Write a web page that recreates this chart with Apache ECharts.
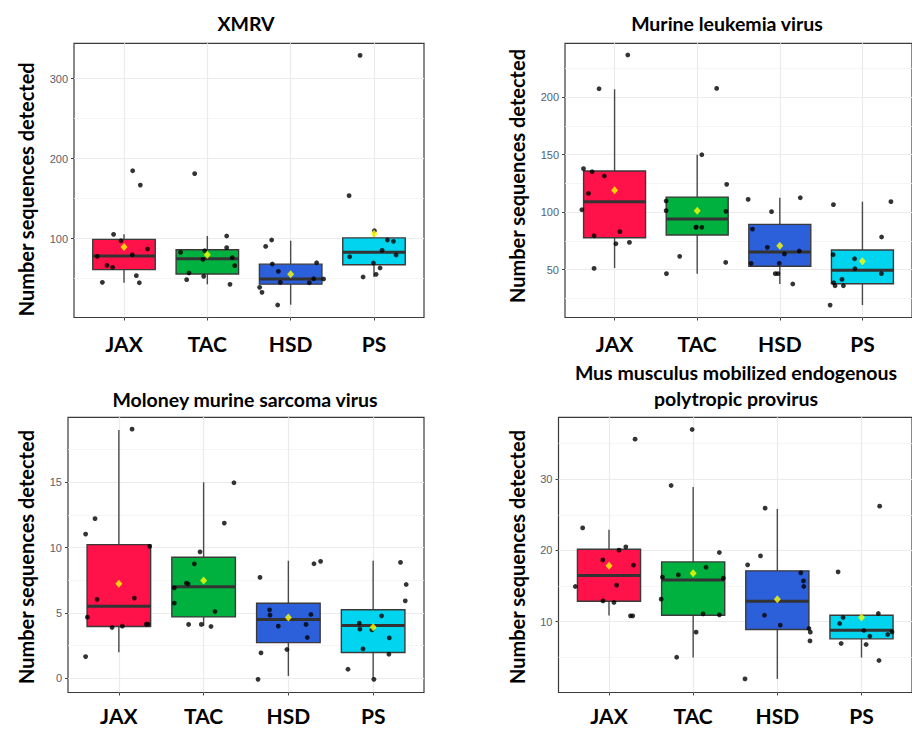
<!DOCTYPE html>
<html><head><meta charset="utf-8">
<script src="https://cdn.jsdelivr.net/npm/echarts@6/dist/echarts.min.js"></script>
<style>html,body{margin:0;padding:0;background:#fff}#c{width:912px;height:729px}</style>
</head><body><div id="c"></div>
<script>
// ---------------- DATA ----------------
const groups = ['JAX', 'TAC', 'HSD', 'PS'];
const titles = ['XMRV', 'Murine leukemia virus', 'Moloney murine sarcoma virus',
  'Mus musculus mobilized endogenous\npolytropic provirus'];
const yTitle = 'Number sequences detected';

// box stats per group: [lower whisker, Q1, median, Q3, upper whisker]
const xmrvBox = [[45, 61.3, 78.4, 99.2, 105.5], [43, 55.8, 75.1, 86.2, 103.4], [17.5, 43.2, 49.6, 68.2, 97.5], [52.1, 67.5, 83, 101, 107]];
const xmrvMean = [89.6, 79.8, 55.5, 106.2];
const xmrvPoints = [
  [0.875, 105.5], [0.964, 97.5], [0.68, 78], [1.10, 80], [1.283, 87.1], [0.796, 66.7], [0.863, 64.2], [1.148, 53.8], [0.74, 45.5], [1.184, 45], [1.104, 185], [1.196, 167],
  [1.679, 83], [1.968, 85], [1.948, 74.2], [2.232, 88.8], [2.30, 76.3], [2.328, 66.3], [1.78, 57.1], [1.752, 48.8], [1.956, 53], [2.272, 43], [2.232, 103.4], [1.848, 181.3],
  [2.772, 98.4], [2.70, 90.4], [2.78, 68.4], [2.852, 59.2], [2.876, 45.5], [2.628, 39.2], [2.656, 33], [2.844, 17.1], [3.312, 70], [3.276, 50], [3.396, 49.6], [3.224, 45],
  [3.708, 77.5], [4.097, 85.5], [4.161, 98.4], [4.233, 96.7], [4.265, 79.6], [3.993, 69.6], [4.073, 63.4], [4.025, 55.5], [3.869, 52.1], [4.005, 110], [3.701, 153.8], [3.833, 329.2]
];
const xmrvMajor = [100, 200, 300];
const xmrvMinor = [50, 150, 250];

const mlvBox = [[51.3, 77.7, 109, 135.7, 206.7], [46.4, 80, 93.9, 113, 149.8], [37.4, 52.8, 65.2, 89.3, 112.4], [19.1, 37.7, 49.3, 67, 109]];
const mlvMean = [118.9, 101.2, 70.7, 57.1];
const mlvPoints = [
  [0.624, 137.7], [0.728, 135], [0.876, 131.3], [0.684, 116.2], [0.604, 102], [0.752, 79.4], [1.064, 82.9], [1.016, 72.4], [1.18, 73.6], [0.752, 51], [0.812, 207.2], [1.16, 236.5],
  [1.624, 109.6], [1.624, 101.2], [1.984, 86.7], [2.056, 86.7], [2.348, 100.6], [2.357, 124.1], [1.788, 61.5], [1.628, 46.4], [2.345, 56.2], [2.056, 149.8], [2.236, 207.5], [1.99, 86.9],
  [2.617, 111], [2.90, 100.3], [3.248, 112.4], [2.669, 85.2], [2.849, 69.3], [2.653, 55.4], [3.056, 63.5], [3.236, 66.1], [2.993, 55.4], [2.945, 46.4], [2.977, 46.4], [3.157, 37.4],
  [3.649, 106.4], [4.345, 109], [4.232, 78.3], [3.645, 62.9], [3.905, 59.4], [3.909, 50.7], [4.229, 46.4], [3.753, 41.4], [3.653, 38.5], [3.669, 35.9], [3.77, 35.9], [3.609, 19.1]
];
const mlvMajor = [50, 100, 150, 200];
const mlvMinor = [25, 75, 125, 175, 225];

const mmsvBox = [[2, 3.96, 5.52, 10.23, 19], [4, 4.7, 7.0, 9.26, 15], [0.18, 2.73, 4.5, 5.74, 9], [0, 1.97, 4.04, 5.24, 9]];
const mmsvMean = [7.23, 7.49, 4.65, 3.91];
const mmsvPoints = [
  [1.156, 19.07], [0.719, 12.22], [0.608, 11.04], [1.364, 10.1], [0.743, 6.04], [1.183, 6.14], [0.629, 4.68], [0.92, 3.89], [1.041, 3.99], [1.324, 4.14], [1.344, 4.14], [0.608, 1.66],
  [2.358, 14.97], [2.244, 11.88], [1.958, 9.68], [1.89, 8.76], [1.654, 6.92], [1.796, 7.28], [1.816, 7.23], [1.654, 5.75], [2.134, 5.11], [1.823, 4.12], [1.973, 4.12], [2.087, 3.96],
  [2.665, 7.72], [3.302, 8.77], [3.38, 8.95], [2.778, 5.24], [2.783, 4.83], [3.266, 4.88], [2.881, 3.99], [3.208, 4.12], [3.223, 3.12], [2.983, 2.2], [2.677, 1.94], [2.642, -0.08],
  [4.323, 8.87], [4.39, 7.18], [4.379, 5.93], [4.099, 4.78], [3.836, 4.22], [3.844, 3.76], [3.986, 3.7], [4.19, 3.09], [3.88, 2.25], [4.186, 1.84], [3.703, 0.69], [4.009, -0.08]
];
const mmsvMajor = [0, 5, 10, 15];
const mmsvMinor = [2.5, 7.5, 12.5, 17.5];

const mmepBox = [[10.87, 12.88, 16.49, 20.18, 22.9], [4.97, 10.91, 15.87, 18.4, 28.93], [1.97, 8.9, 12.88, 17.14, 25.84], [4.97, 7.59, 8.81, 10.91, 11]];
const mmepMean = [17.84, 16.81, 13.16, 10.59];
const mmepPoints = [
  [1.31, 35.63], [0.687, 23.17], [1.2, 20.51], [1.118, 20.04], [0.926, 18.68], [1.291, 17.94], [0.6, 14.94], [1.091, 15.13], [0.929, 12.92], [1.059, 12.7], [1.255, 10.82], [1.282, 10.82],
  [1.988, 36.99], [1.738, 29.13], [2.311, 19.72], [2.153, 17.65], [1.824, 16.57], [1.635, 16.25], [2.358, 16.11], [1.62, 13.16], [2.118, 11.1], [2.311, 10.96], [2.035, 8.53], [1.804, 5.01],
  [2.855, 25.94], [2.8, 19.24], [2.647, 17.98], [3.279, 16.86], [3.311, 15.73], [3.314, 14.94], [2.847, 10.91], [3.035, 9.51], [3.376, 9.04], [3.392, 8.53], [3.388, 7.3], [2.616, 1.97],
  [4.216, 26.22], [3.722, 17.0], [3.781, 10.59], [3.741, 9.75], [4.2, 11.15], [4.028, 8.76], [4.099, 7.96], [4.311, 8.2], [4.362, 8.57], [3.758, 6.94], [4.055, 6.8], [4.208, 4.55]
];
const mmepMajor = [10, 20, 30];
const mmepMinor = [5, 15, 25, 35];

// ---------------- LAYOUT / STYLE ----------------
const boxColors = ['#FF1149', '#00B140', '#2C5FDA', '#00D4EE'];
const FONT = 'Lato';
const panels = [
  { box: xmrvBox, mean: xmrvMean, pts: xmrvPoints, major: xmrvMajor, minor: xmrvMinor, ymin: 1.5, ymax: 344.3,
    grid: { left: 74, top: 43.3, width: 350, height: 274.2 }, title: [246, 23.5], yt: [25.5, 189.3], labelMargin: 15 },
  { box: mlvBox, mean: mlvMean, pts: mlvPoints, major: mlvMajor, minor: mlvMinor, ymin: 8.3, ymax: 246.7,
    grid: { left: 565, top: 43.3, width: 350, height: 274.2 }, title: [727, 23], yt: [517, 176], labelMargin: 15 },
  { box: mmsvBox, mean: mmsvMean, pts: mmsvPoints, major: mmsvMajor, minor: mmsvMinor, ymin: -1.09, ymax: 19.98,
    grid: { left: 68, top: 417.3, width: 356, height: 275.2 }, title: [245, 399], yt: [25.5, 557], labelMargin: 12 },
  { box: mmepBox, mean: mmepMean, pts: mmepPoints, major: mmepMajor, minor: mmepMinor, ymin: 0.06, ymax: 38.7,
    grid: { left: 558.5, top: 417.3, width: 357, height: 275.2 }, title: [736, 372], yt: [517, 557], labelMargin: 12 }
];

const grids = [], xAxes = [], yAxes = [], series = [], graphics = [];
panels.forEach((p, i) => {
  grids.push(Object.assign({ show: true, borderColor: '#3a3a3a', borderWidth: 1.2, backgroundColor: '#fff', containLabel: false }, p.grid));
  const cats = groups.map((g, k) => k + 1);
  xAxes.push({
    gridIndex: i, type: 'value', min: 0.4, max: 4.6, position: 'bottom',
    axisLine: { show: false, onZero: false },
    axisTick: { show: true, customValues: cats, length: 3, lineStyle: { color: '#444', width: 1 } },
    axisLabel: { customValues: cats, formatter: v => groups[Math.round(v) - 1], fontFamily: FONT, fontWeight: 'bold', fontSize: 21, color: '#000', margin: p.labelMargin },
    splitLine: { show: true, lineStyle: { color: '#ebebeb', width: 1.2 } }
  });
  yAxes.push({
    gridIndex: i, type: 'value', min: p.ymin, max: p.ymax,
    axisLine: { show: false, onZero: false },
    axisTick: { show: true, customValues: p.major, length: 3, lineStyle: { color: '#444', width: 1 } },
    axisLabel: { customValues: p.major, fontFamily: 'Liberation Sans', fontSize: 11, color: '#55606e', margin: 6 },
    splitLine: { show: true, lineStyle: { color: '#ebebeb', width: 1.2 } }
  });
  yAxes.push({
    gridIndex: i, type: 'value', min: p.ymin, max: p.ymax, position: 'left',
    axisLine: { show: false, onZero: false },
    axisTick: { show: false, customValues: p.minor },
    axisLabel: { show: false, customValues: p.minor },
    splitLine: { show: true, lineStyle: { color: '#f2f2f2', width: 0.8 } }
  });
  const yIdx = i * 2;
  // boxes
  series.push({
    type: 'custom', xAxisIndex: i, yAxisIndex: yIdx, z: 2,
    data: p.box.map((b, k) => [k + 1].concat(b)),
    encode: { x: 0, y: [1, 2, 3, 4, 5] },
    renderItem: (params, api) => {
      const x = api.value(0), lo = api.value(1), q1 = api.value(2), med = api.value(3), q3 = api.value(4), hi = api.value(5);
      const hw = 0.375;
      const tl = api.coord([x - hw, q3]), br = api.coord([x + hw, q1]);
      const ml = api.coord([x - hw, med]), mr = api.coord([x + hw, med]);
      const pHi = api.coord([x, hi]), pQ3 = api.coord([x, q3]), pQ1 = api.coord([x, q1]), pLo = api.coord([x, lo]);
      return {
        type: 'group', children: [
          { type: 'line', shape: { x1: pHi[0], y1: pHi[1], x2: pQ3[0], y2: pQ3[1] }, style: { stroke: '#4a4a4a', lineWidth: 1.4 } },
          { type: 'line', shape: { x1: pQ1[0], y1: pQ1[1], x2: pLo[0], y2: pLo[1] }, style: { stroke: '#4a4a4a', lineWidth: 1.4 } },
          { type: 'rect', shape: { x: tl[0], y: tl[1], width: br[0] - tl[0], height: br[1] - tl[1] }, style: { fill: boxColors[params.dataIndex], stroke: '#3a3a3a', lineWidth: 1.4 } },
          { type: 'line', shape: { x1: ml[0], y1: ml[1], x2: mr[0], y2: mr[1] }, style: { stroke: '#333', lineWidth: 3 } }
        ]
      };
    }
  });
  series.push({
    type: 'scatter', xAxisIndex: i, yAxisIndex: yIdx, z: 3, symbolSize: 4.8,
    itemStyle: { color: '#000' }, data: p.pts, silent: true
  });
  series.push({
    type: 'scatter', xAxisIndex: i, yAxisIndex: yIdx, z: 4, symbol: 'diamond', symbolSize: [7, 8],
    itemStyle: { color: '#FFFF00' }, data: p.mean.map((m, k) => [k + 1, m]), silent: true
  });
  const lines = titles[i].split('\n');
  lines.forEach((t, li) => {
    graphics.push({ type: 'text', x: p.title[0], y: p.title[1] + li * 26.5, style: { text: t, align: 'center', verticalAlign: 'middle', fontFamily: FONT, fontWeight: 'bold', fontSize: 19.5, fill: '#000' } });
  });
  graphics.push({ type: 'text', x: p.yt[0], y: p.yt[1], rotation: Math.PI / 2, style: { text: yTitle, align: 'center', verticalAlign: 'middle', fontFamily: FONT, fontWeight: 'bold', fontSize: 20, fill: '#000' } });
});

const chart = echarts.init(document.getElementById('c'), null, { renderer: 'svg' });
chart.setOption({
  animation: false, backgroundColor: '#fff',
  grid: grids, xAxis: xAxes, yAxis: yAxes, series: series, graphic: graphics
});
</script></body></html>
